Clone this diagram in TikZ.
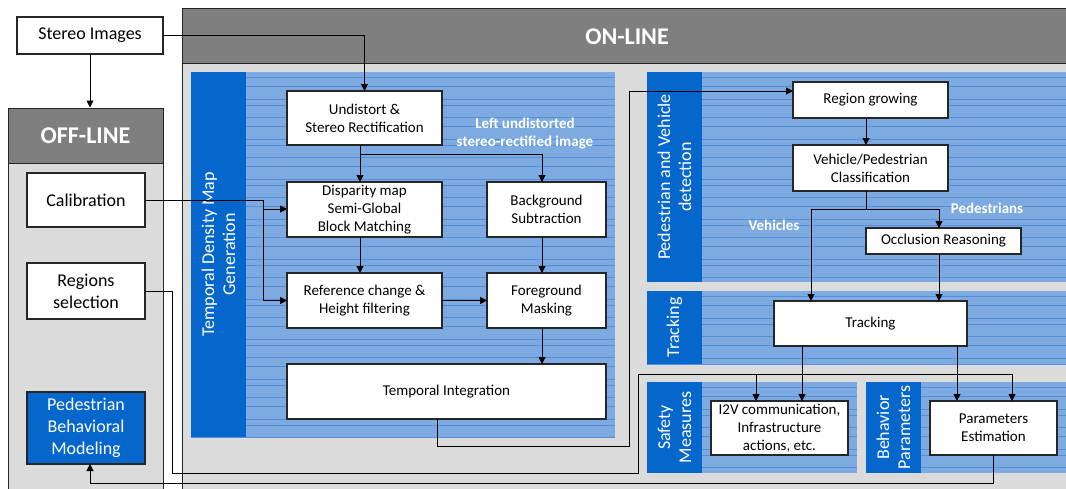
\documentclass[tikz,border=0pt]{standalone}
\usepackage{fontspec}
\setmainfont{Carlito}
\usetikzlibrary{arrows.meta}
\definecolor{hdrgray}{RGB}{127,127,127}
\definecolor{bodygray}{RGB}{219,219,219}
\definecolor{bandblue}{RGB}{5,102,204}
\definecolor{patblue}{RGB}{125,170,224}
\definecolor{patline}{RGB}{86,143,216}
\definecolor{edge}{RGB}{38,38,38}
\newcommand\mypanel[4]{%
  \fill[patblue] (#1,#2) rectangle (#3,#4);
  \begin{scope}
    \clip (#1,#2) rectangle (#3,#4);
    \foreach \yy in {0,40,...,440} {
      \foreach \dd in {5,14,27,33} {\draw[patline, line width=0.6pt] (#1,#2+\yy+\dd) -- (#3,#2+\yy+\dd);}
    }
  \end{scope}
  \fill[bandblue] (#1,#2) rectangle (#1+55,#4);
}
\tikzset{
  box/.style={draw=edge, line width=1.2pt, fill=white, inner sep=0pt, outer sep=0pt, align=center, font=\fontsize{15}{18}\selectfont},
  obox/.style={box, font=\fontsize{18}{22}\selectfont},
  bandlabel/.style={rotate=90, text=white, align=center, font=\fontsize{18}{21}\selectfont},
  wlabel/.style={text=white, align=center, font=\bfseries\fontsize{15}{18}\selectfont},
  hdrtext/.style={text=white, font=\bfseries\fontsize{24}{24}\selectfont},
  conn/.style={line width=1pt, draw=black},
  arr/.style={conn, -{Triangle[length=7pt,width=7pt]}}
}
\begin{document}
\begin{tikzpicture}[x=1pt,y=-1pt]
\useasboundingbox (0,0) rectangle (1066,488);
\clip (0,0) rectangle (1066,488);
\fill[white] (0,0) rectangle (1066,488);
% OFF-LINE block
\draw[edge, line width=1pt, fill=bodygray] (8,108) rectangle (163,500);
\node[draw=edge, line width=1pt, fill=hdrgray, minimum width=155pt, minimum height=55pt, inner sep=0pt, hdrtext] (offhdr) at (85.5,135.5) {OFF-LINE};
% ON-LINE block
\draw[edge, line width=1pt, fill=bodygray] (182,8) rectangle (1080,500);
\draw[edge, line width=1pt, fill=hdrgray] (182,8) rectangle (1080,63);
\node[hdrtext] (onhdr) at (627,37) {ON-LINE};
% panels
\mypanel{191}{72}{615}{437}
\mypanel{647}{72}{1080}{282}
\mypanel{647}{291}{1080}{364}
\mypanel{647}{382}{857}{473}
\mypanel{866}{382}{1080}{473}
\node[bandlabel] (tdmgl) at (218.5,254.5) {Temporal Density Map\\Generation};
\node[bandlabel] (pvdl) at (674.5,177) {Pedestrian and Vehicle\\detection};
\node[bandlabel] (trkl) at (674.5,327.5) {Tracking};
\node[bandlabel] (safl) at (674.5,427.5) {Safety\\Measures};
\node[bandlabel] (behl) at (893.5,427.5) {Behavior\\Parameters};
% boxes
\node[obox, minimum width=146pt, minimum height=37pt] (stereo) at (90,35.5) {Stereo Images};
\node[obox, minimum width=118pt, minimum height=54pt] (calib) at (86,200) {Calibration};
\node[obox, minimum width=118pt, minimum height=56pt] (regions) at (86,291) {Regions\\selection};
\node[obox, fill=bandblue, text=white, minimum width=118pt, minimum height=72pt] (pbm) at (86,428) {Pedestrian\\Behavioral\\Modeling};
\node[box, minimum width=155pt, minimum height=54pt] (undist) at (364.5,118) {Undistort \&\\Stereo Rectification};
\node[box, minimum width=155pt, minimum height=55pt] (disp) at (364.5,209.5) {Disparity map\\Semi-Global\\Block Matching};
\node[box, minimum width=119pt, minimum height=55pt] (bgsub) at (546.5,209.5) {Background\\Subtraction};
\node[box, minimum width=155pt, minimum height=55pt] (refch) at (364.5,300.5) {Reference change \&\\Height filtering};
\node[box, minimum width=119pt, minimum height=55pt] (fgmask) at (546.5,300.5) {Foreground\\Masking};
\node[box, minimum width=319pt, minimum height=55pt] (tint) at (446.5,391.5) {Temporal Integration};
\node[box, minimum width=155pt, minimum height=36pt] (regrow) at (870.5,100) {Region growing};
\node[box, minimum width=155pt, minimum height=46pt] (vpclass) at (870.5,168) {Vehicle/Pedestrian\\Classification};
\node[box, minimum width=155pt, minimum height=26pt] (occl) at (943.5,241) {Occlusion Reasoning};
\node[box, minimum width=193pt, minimum height=45pt] (track) at (870.5,323.5) {Tracking};
\node[box, minimum width=137pt, minimum height=54pt] (i2v) at (779.5,428) {I2V communication,\\Infrastructure\\actions, etc.};
\node[box, minimum width=127pt, minimum height=54pt] (paramest) at (993.5,428) {Parameters\\Estimation};
% white labels
\node[wlabel] (lui) at (525,134) {Left undistorted\\stereo-rectified image};
\node[wlabel] (ped) at (987,208) {Pedestrians};
\node[wlabel] (veh) at (774,225) {Vehicles};
% connectors
\draw[arr] (stereo.east) -| (undist.north);
\draw[arr] (stereo.south) -- (stereo.south |- offhdr.north);
\coordinate (cb) at (263,209);
\draw[arr] (calib.east) -| (cb) -- (cb -| disp.west);
\draw[arr] (cb) |- (refch.west);
\coordinate (ub) at (360,154);
\draw[arr] (undist.south -| ub) -- (disp.north -| ub);
\draw[arr] (ub) -| (bgsub.north -| 542,0);
\draw[arr] (disp.south -| ub) -- (refch.north -| ub);
\draw[arr] (bgsub.south -| 542,0) -- (fgmask.north -| 542,0);
\draw[arr] (refch.east) -- (fgmask.west);
\draw[arr] (fgmask.south -| 542,0) -- (tint.north -| 542,0);
\coordinate (t1) at (437,446);
\coordinate (t2) at (629,91);
\draw[arr] (tint.south -| t1) -- (t1) -| (t2) -- (t2 -| regrow.west);
\draw[arr] (regrow.south -| 866,0) -- (vpclass.north -| 866,0);
\coordinate (vb) at (866,209);
\draw[conn] (vpclass.south -| vb) -- (vb);
\draw[arr] (vb) -| (occl.north -| 939,0);
\draw[arr] (vb) -| (track.north -| 811,0);
\draw[arr] (occl.south -| 939,0) -- (track.north -| 939,0);
\draw[arr] (track.south -| 802,0) -- (i2v.north -| 802,0);
\draw[arr] (track.south -| 957,0) -- (paramest.north -| 957,0);
\coordinate (r1) at (172,473);
\coordinate (r2) at (638,374);
\draw[arr] (regions.east) -| (r1) -| (r2) -| (paramest.north -| 1012,0);
\draw[arr] (r2 -| 756,0) -- (i2v.north -| 756,0);
\coordinate (p1) at (90,483);
\draw[arr] (paramest.south -| 993,0) |- (p1) -- (pbm.south -| p1);
\end{tikzpicture}
\end{document}
